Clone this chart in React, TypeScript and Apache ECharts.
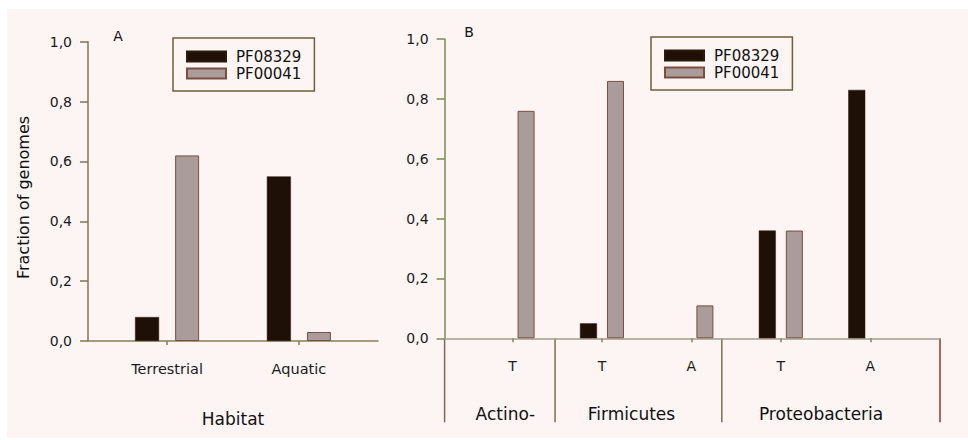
import React, { useEffect, useRef } from 'react';
import * as echarts from 'echarts';

const seriesNames = ['PF08329', 'PF00041'];

const habitats = ['Terrestrial', 'Aquatic'];
const habitatPos = [1, 2];
const habitatPF08329 = [0.08, 0.55];
const habitatPF00041 = [0.62, 0.03];

const phylumHabitats = ['T', 'T', 'A', 'T', 'A'];
const phylumPos = [1, 2, 3, 4, 5];
const phylumPF08329 = [0, 0.05, 0, 0.36, 0.83];
const phylumPF00041 = [0.76, 0.86, 0.11, 0.36, 0];
const phyla = ['Actino-', 'Firmicutes', 'Proteobacteria'];
const phylumLabelPos = [0.92, 2.33, 4.45];
const phylumBounds = [0.24, 1.475, 3.34, 5.78];

const FONT = "'DejaVu Sans', sans-serif";
const DARK = '#1f1007';
const GRAY = '#a99c9b';
const fmtY = (v: number) => v.toFixed(1).replace('.', ',');
const toData = (pos: number[], vals: number[]) =>
  pos.map((p, i) => ({
    value: [p, vals[i]],
    itemStyle: vals[i] === 0 ? { borderWidth: 0, opacity: 0 } : undefined,
  }));

export default function App() {
  const ref = useRef<HTMLDivElement>(null);
  useEffect(() => {
    document.body.style.margin = '0';
    const chart = echarts.init(ref.current!, undefined, { renderer: 'svg' });
    const yAxisCommon = (color: string) => ({
      type: 'value',
      min: 0,
      max: 1,
      interval: 0.2,
      axisLine: { show: true, lineStyle: { color, width: 1.5 } },
      axisTick: { show: true, length: 8, lineStyle: { color, width: 1.5 } },
      splitLine: { show: false },
      axisLabel: { formatter: fmtY, fontSize: 14, fontFamily: FONT, color: '#1a1a1a', margin: 16 },
    });
    const legendCommon = {
      orient: 'vertical',
      data: seriesNames,
      icon: 'rect',
      itemWidth: 39,
      itemHeight: 10,
      itemGap: 2,
      borderColor: '#6f6035',
      borderWidth: 1.5,
      borderRadius: 0,
      padding: [11, 13, 10, 13],
      textStyle: { fontSize: 15, fontFamily: FONT, color: '#111', lineHeight: 15, padding: [0, 0, 0, 5] },
    };
    const grayStyle = { color: GRAY, borderColor: '#7a4f40', borderWidth: 1 };
    const darkStyle = { color: DARK, borderColor: '#2a1a0a', borderWidth: 0.5 };
    chart.setOption({
      animation: false,
      grid: [
        { left: 88, top: 41.7, width: 290, height: 299.3 },
        { left: 444.6, top: 39, width: 495.4, height: 299.3 },
      ],
      xAxis: [
        {
          type: 'value', gridIndex: 0, min: 0.4, max: 2.6,
          axisLine: { show: true, lineStyle: { color: '#8a7d55', width: 1.5 } },
          axisTick: { show: true, length: 4, customValues: habitatPos, lineStyle: { color: '#8a7d55', width: 1.5 } },
          splitLine: { show: false },
          axisLabel: {
            customValues: habitatPos,
            formatter: (v: number) => habitats[habitatPos.indexOf(v)] ?? '',
            fontSize: 14.5, fontFamily: FONT, color: '#1a1a1a', margin: 20,
          },
          name: 'Habitat', nameLocation: 'middle', nameGap: 69,
          nameTextStyle: { fontSize: 17, fontFamily: FONT, color: '#111' },
        },
        {
          type: 'value', gridIndex: 1, min: 0.24, max: 5.78,
          axisLine: { show: true, lineStyle: { color: '#a09f88', width: 1.5 } },
          axisTick: { show: true, length: 4, customValues: phylumPos, lineStyle: { color: '#7d8a55', width: 1.5 } },
          splitLine: { show: false },
          axisLabel: {
            customValues: phylumPos,
            formatter: (v: number) => phylumHabitats[phylumPos.indexOf(v)] ?? '',
            fontSize: 14, fontFamily: FONT, color: '#1a1a1a', margin: 21,
          },
        },
      ],
      yAxis: [
        { ...yAxisCommon('#857650'), gridIndex: 0 },
        { ...yAxisCommon('#7d8a55'), gridIndex: 1 },
      ],
      legend: [
        { ...legendCommon, left: 173, top: 38 },
        { ...legendCommon, left: 651, top: 37 },
      ],
      series: [
        {
          type: 'bar', name: seriesNames[0], xAxisIndex: 0, yAxisIndex: 0,
          barWidth: 24, barGap: '67%', itemStyle: darkStyle,
          data: toData(habitatPos, habitatPF08329),
        },
        {
          type: 'bar', name: seriesNames[1], xAxisIndex: 0, yAxisIndex: 0,
          barWidth: 24, barGap: '67%', itemStyle: grayStyle,
          data: toData(habitatPos, habitatPF00041),
        },
        {
          type: 'bar', name: seriesNames[0], xAxisIndex: 1, yAxisIndex: 1,
          barWidth: 17, barGap: '59%', itemStyle: darkStyle,
          data: toData(phylumPos, phylumPF08329),
        },
        {
          type: 'bar', name: seriesNames[1], xAxisIndex: 1, yAxisIndex: 1,
          barWidth: 17, barGap: '59%', itemStyle: grayStyle,
          data: toData(phylumPos, phylumPF00041),
        },
      ],
    });

    const baseY = chart.convertToPixel({ yAxisIndex: 1 }, 0) as number;
    const depth = 84;
    const lines = phylumBounds.map((b, i) => {
      const x = chart.convertToPixel({ xAxisIndex: 1 }, b) as number;
      const last = i === phylumBounds.length - 1;
      return {
        type: 'line',
        shape: { x1: x, y1: baseY, x2: x, y2: baseY + depth },
        style: { stroke: last ? '#8b3b2b' : '#7a7050', lineWidth: 1.5 },
      };
    });
    const groupLabels = phyla.map((name, i) => ({
      type: 'text',
      x: chart.convertToPixel({ xAxisIndex: 1 }, phylumLabelPos[i]) as number,
      y: baseY + 76,
      style: { text: name, fontSize: 17, fontFamily: FONT, fill: '#111', align: 'center', verticalAlign: 'middle' },
    }));
    chart.setOption({
      graphic: [
        ...lines,
        ...groupLabels,
        {
          type: 'text', x: 23, y: 197.5, rotation: Math.PI / 2,
          style: { text: 'Fraction of genomes', fontSize: 16, fontFamily: FONT, fill: '#111', align: 'center', verticalAlign: 'middle' },
        },
        { type: 'text', x: 118, y: 36, style: { text: 'A', fontSize: 14, fontFamily: FONT, fill: '#111', align: 'center', verticalAlign: 'middle' } },
        { type: 'text', x: 469, y: 32, style: { text: 'B', fontSize: 14, fontFamily: FONT, fill: '#111', align: 'center', verticalAlign: 'middle' } },
      ],
    });
    return () => chart.dispose();
  }, []);

  return (
    <div style={{ position: 'relative', width: 968, height: 440, background: '#ffffff' }}>
      <div style={{ position: 'absolute', left: 7, top: 9, width: 961, height: 429, background: '#fdf4f4' }} />
      <div ref={ref} style={{ position: 'absolute', left: 0, top: 0, width: 968, height: 440 }} />
    </div>
  );
}
